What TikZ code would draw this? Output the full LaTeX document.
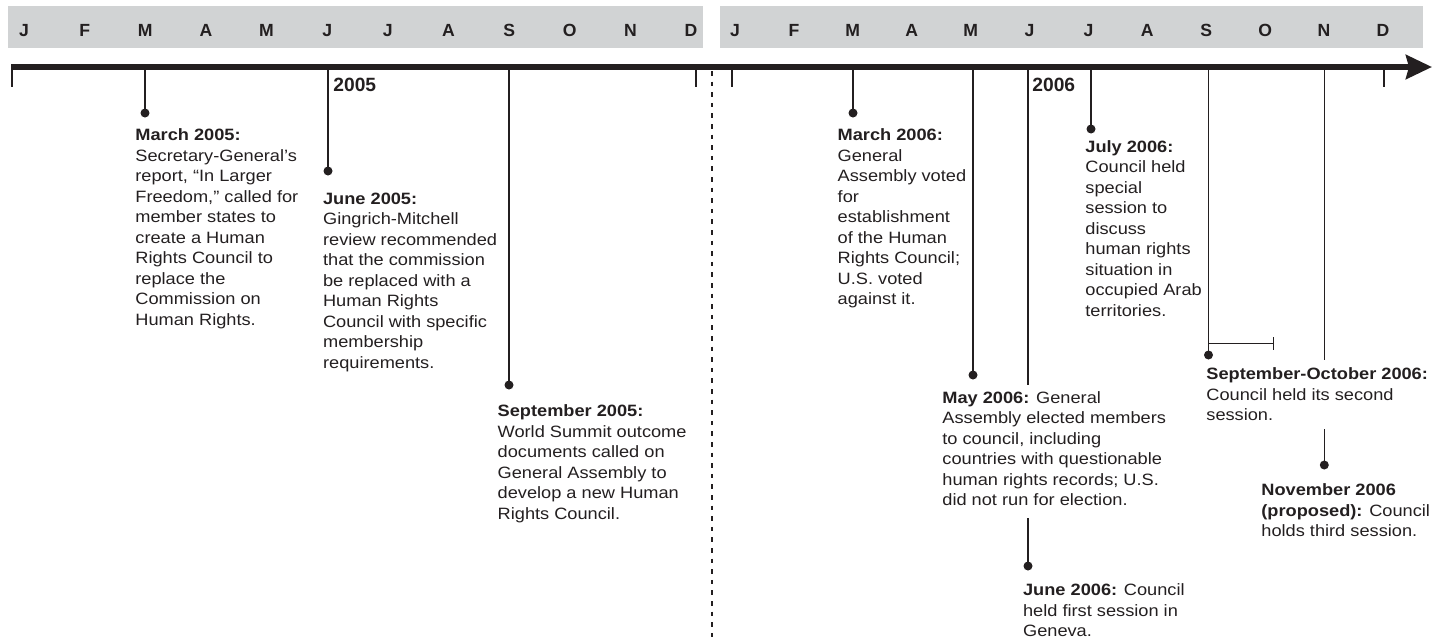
\documentclass[tikz,border=0pt]{standalone}
\usepackage{fontspec}
\setmainfont{Liberation Sans}[FakeStretch=1.11]
\newfontfamily\plainsans{Liberation Sans}
\usetikzlibrary{arrows.meta}
\definecolor{ink}{HTML}{231F20}
\definecolor{band}{HTML}{D1D3D4}
\begin{document}
\begin{tikzpicture}[x=0.5pt,y=-0.5pt,
  every node/.style={text=ink, font=\fontsize{8.2}{10.25}\selectfont},
  monthlbl/.style={font=\plainsans\fontsize{8.8}{10}\selectfont\bfseries, anchor=base, inner sep=0},
  yearlbl/.style={font=\plainsans\fontsize{9.6}{11}\selectfont\bfseries, anchor=base west, inner sep=0},
  evtext/.style={anchor=north west, align=left, inner sep=0},
  dot/.style={circle, fill=ink, inner sep=0, minimum size=4.5pt},
  conn/.style={draw=ink, line width=0.65pt},
  tickmark/.style={draw=ink, line width=1.1pt},
  axis/.style={draw=ink, line width=2.8pt},
]
\useasboundingbox (0,0) rectangle (1442,643);

% month bands
\fill[band] (8,6) rectangle (703,48);
\fill[band] (720,6) rectangle (1423,48);
\foreach \m [count=\i from 0] in {J,F,M,A,M,J,J,A,S,O,N,D}
  \node[monthlbl] (mA\i) at ({24+\i*60.64},36) {\m};
\foreach \m [count=\i from 0] in {J,F,M,A,M,J,J,A,S,O,N,D}
  \node[monthlbl] (mB\i) at ({735+\i*58.9},36) {\m};

% timeline
\coordinate (tlstart) at (11,67);
\coordinate (tlend) at (1432,67);
\draw[axis, -{Stealth[length=13pt,width=12pt,inset=1.5pt]}] (tlstart) -- (tlend);

% year end ticks
\draw[tickmark] (12,66) -- (12,87);
\draw[tickmark] (696,66) -- (696,87);
\draw[tickmark] (732,66) -- (732,87);
\draw[tickmark] (1384,66) -- (1384,87);

% year divider
\draw[ink, line width=1.4pt, dash pattern=on 2.3pt off 3pt] (712,71) -- (712,643);

% year labels
\node[yearlbl] (y05) at (333,91.7) {2005};
\node[yearlbl] (y06) at (1032,91.7) {2006};

% ---- 2005 events
\coordinate (e1) at (145,67);
\node[dot] (d1) at (145,113) {};
\draw[conn] (e1) -- (d1.center);
\node[evtext] (t1) at (135,128.3) {\textbf{March 2005:}\\Secretary-General’s\\report, “In Larger\\Freedom,” called for\\member states to\\create a Human\\Rights Council to\\replace the\\Commission on\\Human Rights.};

\coordinate (e2) at (328,67);
\node[dot] (d2) at (328,171) {};
\draw[conn] (e2) -- (d2.center);
\node[evtext] (t2) at (322.7,192.3) {\textbf{June 2005:}\\Gingrich-Mitchell\\review recommended\\that the commission\\be replaced with a\\Human Rights\\Council with specific\\membership\\requirements.};

\coordinate (e3) at (509,67);
\node[dot] (d3) at (509,385) {};
\draw[conn] (e3) -- (d3.center);
\node[evtext] (t3) at (497.3,404.3) {\textbf{September 2005:}\\World Summit outcome\\documents called on\\General Assembly to\\develop a new Human\\Rights Council.};

% ---- 2006 events
\coordinate (e4) at (853,67);
\node[dot] (d4) at (853,113) {};
\draw[conn] (e4) -- (d4.center);
\node[evtext] (t4) at (837.3,128.3) {\textbf{March 2006:}\\General\\Assembly voted\\for\\establishment\\of the Human\\Rights Council;\\U.S. voted\\against it.};

\coordinate (e5) at (973,67);
\node[dot] (d5) at (973,375) {};
\draw[conn] (e5) -- (d5.center);
\node[evtext] (t5) at (942,391) {\textbf{May 2006:} General\\Assembly elected members\\to council, including\\countries with questionable\\human rights records; U.S.\\did not run for election.};

\coordinate (e6) at (1028,67);
\coordinate (e6a) at (1028,385);
\coordinate (e6b) at (1028,518);
\node[dot] (d6) at (1028,566) {};
\draw[conn] (e6) -- (e6a);
\draw[conn] (e6b) -- (d6.center);
\node[evtext] (t6) at (1022.7,583.6) {\textbf{June 2006:} Council\\held first session in\\Geneva.};

\coordinate (e7) at (1091,67);
\node[dot] (d7) at (1091,129) {};
\draw[conn] (e7) -- (d7.center);
\node[evtext] (t7) at (1085,140) {\textbf{July 2006:}\\Council held\\special\\session to\\discuss\\human rights\\situation in\\occupied Arab\\territories.};

\coordinate (e8) at (1208.5,67);
\node[dot] (d8) at (1208.5,355) {};
\draw[conn] (e8) -- (d8.center);
\coordinate (b1) at (1208.5,343.5);
\coordinate (b2) at (1273.5,343.5);
\draw[conn] (b1) -- (b2);
\draw[conn] (1273.5,337) -- (1273.5,350);
\node[evtext] (t8) at (1206,367.6) {\textbf{September-October 2006:}\\Council held its second\\session.};

\coordinate (e9) at (1324.3,67);
\coordinate (e9a) at (1324.3,360);
\coordinate (e9b) at (1324.3,429);
\node[dot] (d9) at (1324.3,465) {};
\draw[conn] (e9) -- (e9a);
\draw[conn] (e9b) -- (d9.center);
\node[evtext] (t9) at (1261,483.3) {\textbf{November 2006}\\\textbf{(proposed):} Council\\holds third session.};
\end{tikzpicture}
\end{document}
